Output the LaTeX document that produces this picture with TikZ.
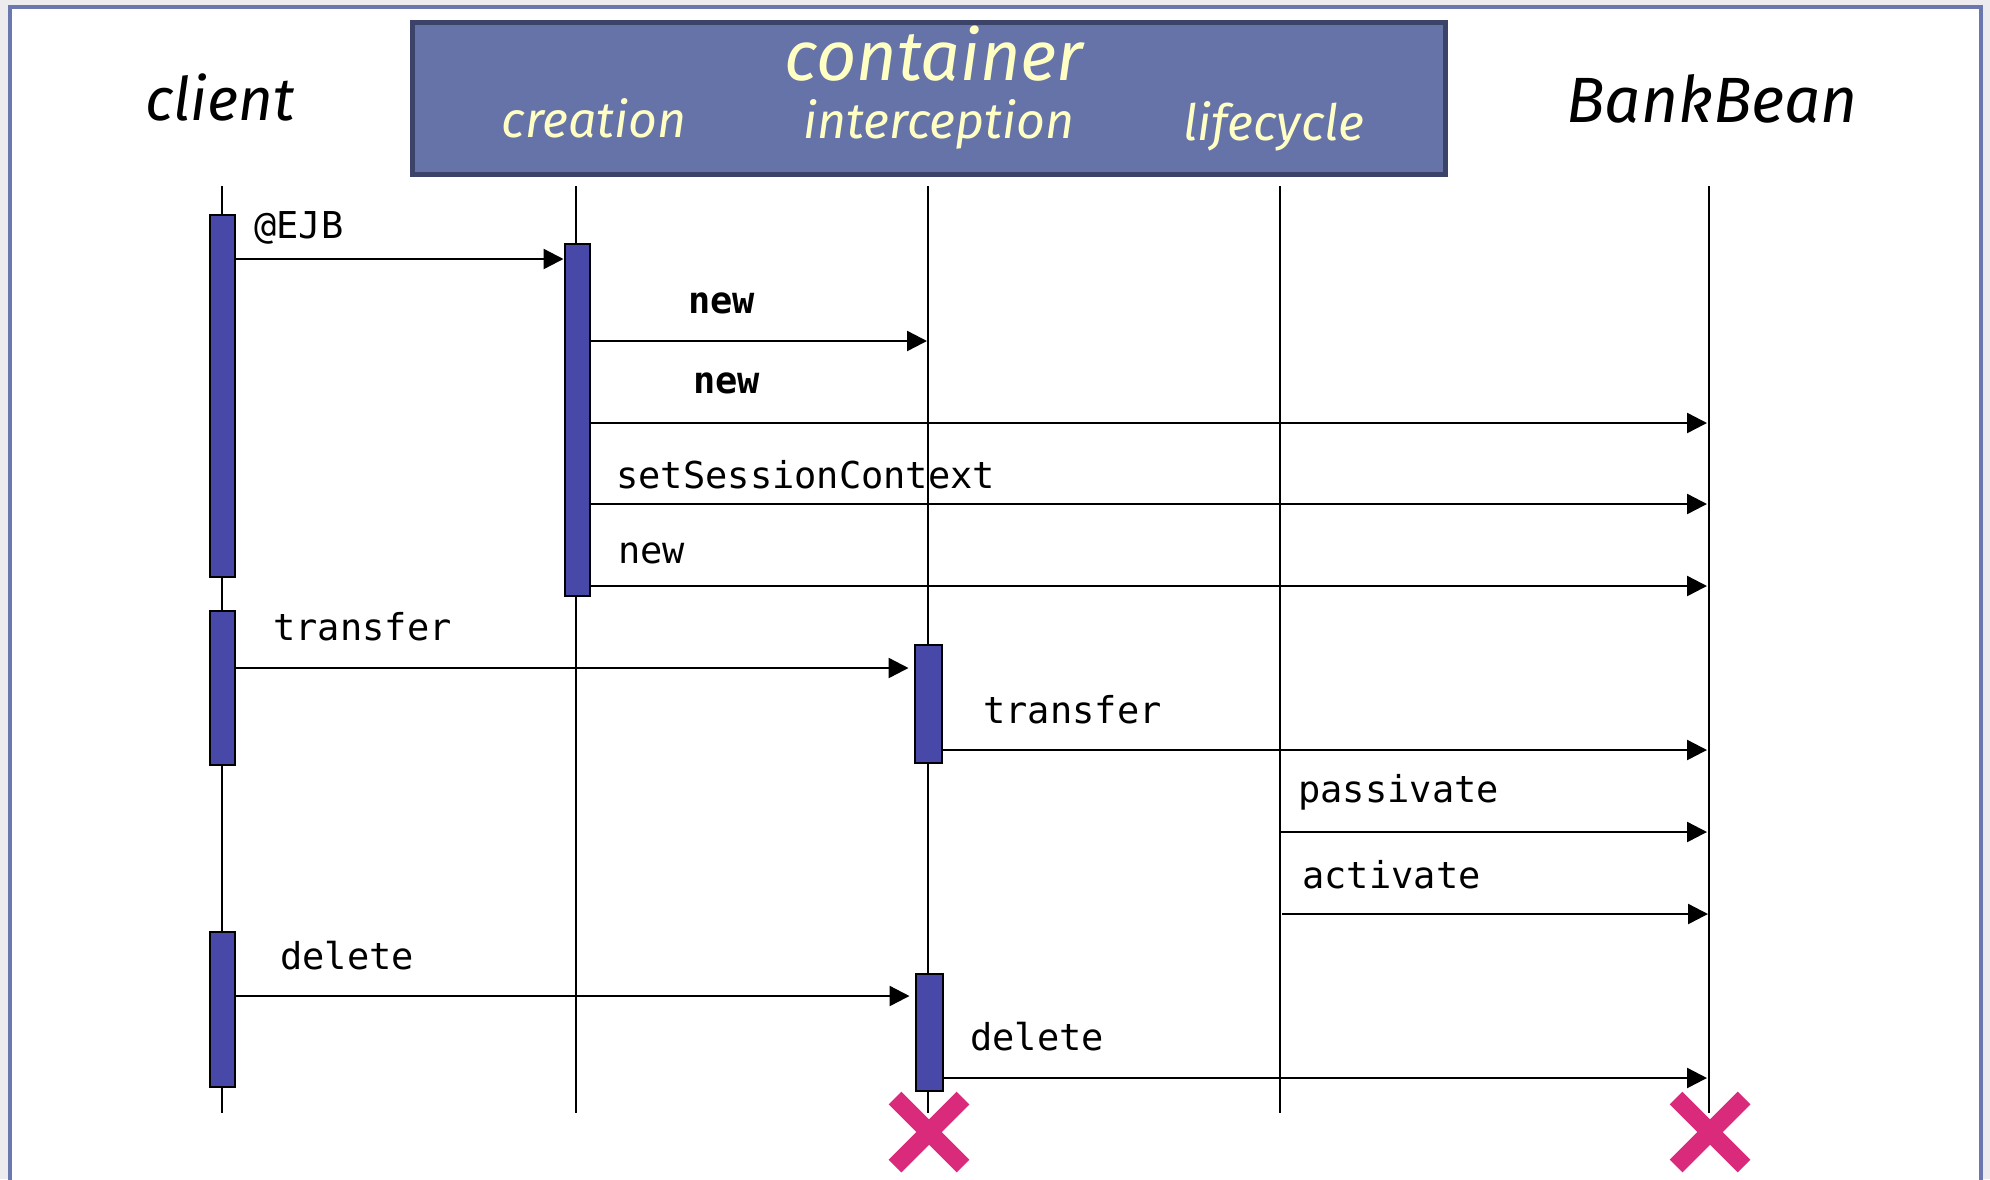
\documentclass[tikz,border=0pt]{standalone}
\usepackage{fontspec}
\usetikzlibrary{arrows.meta}
\newfontfamily\handfont{Fira Sans}
\newfontfamily\codefont{DejaVu Sans Mono}
\definecolor{pagegray}{RGB}{236,236,238}
\definecolor{framecol}{RGB}{107,120,176}
\definecolor{boxfill}{RGB}{102,115,168}
\definecolor{boxline}{RGB}{59,68,104}
\definecolor{cream}{RGB}{255,255,196}
\definecolor{barfill}{RGB}{72,72,168}
\definecolor{killpink}{RGB}{217,42,123}

\begin{document}
\begin{tikzpicture}[x=0.5pt,y=-0.5pt,
  lifeline/.style={line width=1.2pt},
  actbar/.style={draw=black, line width=1pt, fill=barfill, inner sep=0pt,
                 minimum width=12.5pt},
  msg/.style={line width=1.2pt, -{Triangle[length=10pt,width=10pt]}},
  msglabel/.style={anchor=base west, inner sep=0pt,
                   font=\codefont\fontsize{18.5}{20}\selectfont},
  boldlabel/.style={anchor=base west, inner sep=0pt,
                    font=\codefont\bfseries\fontsize{18.5}{20}\selectfont},
  head/.style={anchor=base, inner sep=0pt,
               font=\handfont\itshape\fontsize{30}{32}\selectfont},
  sub/.style={anchor=base, inner sep=0pt, text=cream,
              font=\handfont\itshape\fontsize{25}{27}\selectfont},
  killmark/.style={draw=killpink, line width=9pt},
]
\useasboundingbox (0,0) rectangle (1990,1179);
\clip (0,0) rectangle (1990,1179);

% page and frame
\fill[pagegray] (0,0) rectangle (1990,1179);
\fill[white] (10,7) rectangle (1981,1200);
\draw[framecol, line width=2.2pt] (10,1200) -- (10,7) -- (1981,7) -- (1981,1200);

% container header box
\node[draw=boxline, line width=2.5pt, fill=boxfill, inner sep=0pt,
      minimum width=516.5pt, minimum height=76pt] (container) at (929,98.5) {};
\node[sub, font=\handfont\itshape\fontsize{35}{37}\selectfont] (ctitle) at (934,80) {container};
\node[sub] (tcre) at (594,137) {creation};
\node[sub] (tint) at (939,138) {interception};
\node[sub] (tlife) at (1274,140) {lifecycle};

% participants outside the container
\node[head] (tclient) at (220,120) {client};
\node[head, font=\handfont\itshape\fontsize{32}{34}\selectfont] (tbean) at (1712,122) {BankBean};

% lifelines
\foreach \n/\x in {cl/222, cr/576, in/928, lc/1280, bb/1709} {
  \coordinate (\n-top) at (\x,186);
  \coordinate (\n-bot) at (\x,1113);
  \draw[lifeline] (\n-top) -- (\n-bot);
}

% activation bars
\node[actbar, minimum height=181pt] (c1) at (222,396) {};
\node[actbar, minimum height=77pt] (c2) at (222,688) {};
\node[actbar, minimum height=77.5pt] (c3) at (222,1009.5) {};
\node[actbar, minimum height=176pt] (k1) at (577,420) {};
\node[actbar, minimum width=13.5pt, minimum height=59pt] (i1) at (928,704) {};
\node[actbar, minimum width=13.5pt, minimum height=58.5pt] (i2) at (929,1032.5) {};

% message end points on the receiving lifelines
\coordinate (m1) at (577,259);
\coordinate (m2) at (927,341);
\coordinate (m3) at (1707,423);
\coordinate (m4) at (1707,504);
\coordinate (m5) at (1707,586);
\coordinate (m6) at (928,668);
\coordinate (m7) at (1707,750);
\coordinate (m8) at (1707,832);
\coordinate (m9) at (1708,914);
\coordinate (m10) at (928,996);
\coordinate (m11) at (1707,1078);

% messages
\draw[msg] (c1.east |- m1) -- (k1.west |- m1);
\draw[msg] (k1.east |- m2) -- (m2);
\draw[msg] (k1.east |- m3) -- (m3);
\draw[msg] (k1.east |- m4) -- (m4);
\draw[msg] (k1.east |- m5) -- (m5);
\draw[msg, shorten >=2.5pt] (c2.east |- m6) -- (i1.west |- m6);
\draw[msg] (i1.east |- m7) -- (m7);
\draw[msg] (lc-top |- m8) -- (m8);
\draw[msg] ([xshift=1pt]lc-top |- m9) -- (m9);
\draw[msg, shorten >=2.5pt] (c3.east |- m10) -- (i2.west |- m10);
\draw[msg] (i2.east |- m11) -- (m11);

% message labels
\node[msglabel] (l1) at (254,238) {@EJB};
\node[boldlabel] (l2) at (688,313) {new};
\node[boldlabel] (l3) at (693,393) {new};
\node[msglabel] (l4) at (616,488) {setSessionContext};
\node[msglabel] (l5) at (618,563) {new};
\node[msglabel] (l6) at (273,640) {transfer};
\node[msglabel] (l7) at (983,723) {transfer};
\node[msglabel] (l8) at (1298,802) {passivate};
\node[msglabel] (l9) at (1302,888) {activate};
\node[msglabel] (l10) at (280,969) {delete};
\node[msglabel] (l11) at (970,1050) {delete};

% destruction marks
\coordinate (x-in) at (929,1132);
\coordinate (x-bb) at (1710,1132);
\foreach \c in {x-in, x-bb} {
  \draw[killmark] ([shift={(-34,-34)}]\c) -- ([shift={(34,34)}]\c);
  \draw[killmark] ([shift={(-34,34)}]\c) -- ([shift={(34,-34)}]\c);
}
\end{tikzpicture}
\end{document}
